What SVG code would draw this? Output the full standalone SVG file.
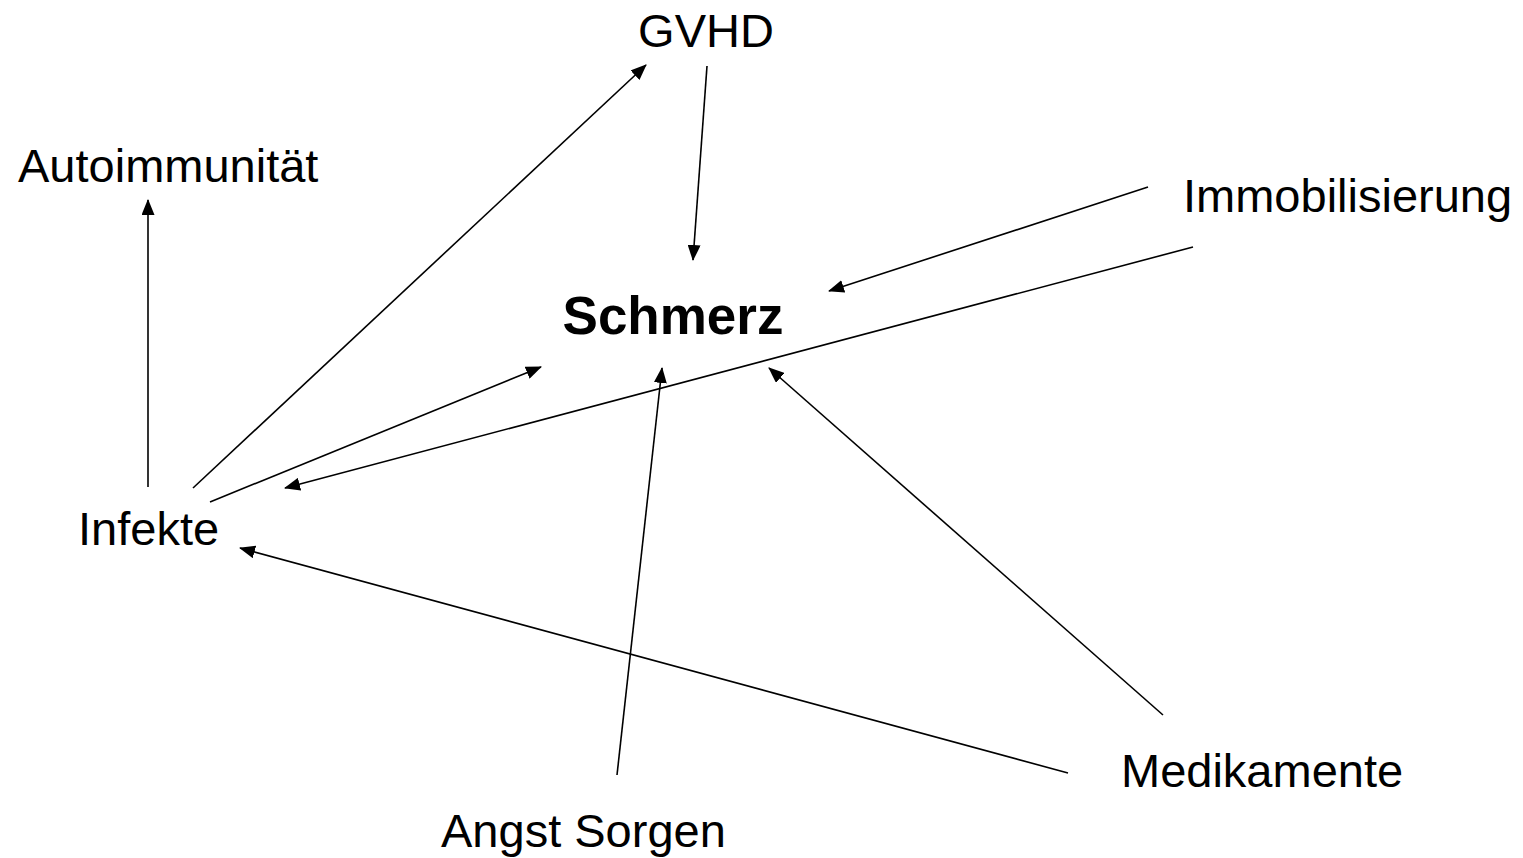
<svg xmlns="http://www.w3.org/2000/svg" width="1523" height="858" viewBox="0 0 1523 858">
<defs>
<style>
.t{font-family:"Liberation Sans",Arial,sans-serif;font-size:47px;fill:#000}
.b{font-weight:bold;font-size:53px}
.c line{stroke:#000;stroke-width:1.6;marker-end:url(#ah)}
</style>
<marker id="ah" viewBox="0 0 16 13" refX="15" refY="6.5" markerWidth="16" markerHeight="13" markerUnits="userSpaceOnUse" orient="auto">
<path d="M0,0 L16,6.5 L0,13 z" fill="#000"/>
</marker>
</defs>
<rect width="1523" height="858" fill="#fff"/>
<g id="connectors" class="c">
<line x1="193" y1="488" x2="646" y2="65"/>
<line x1="707" y1="66" x2="693" y2="260"/>
<line x1="1148" y1="187" x2="829" y2="291"/>
<line x1="1193" y1="247" x2="285" y2="488"/>
<line x1="210" y1="502" x2="541" y2="367"/>
<line x1="617" y1="775" x2="662" y2="368"/>
<line x1="1163" y1="715" x2="769" y2="368"/>
<line x1="1068" y1="773" x2="240" y2="548"/>
<line x1="148" y1="487" x2="148" y2="200"/>
</g>
<g id="gvhd"><text class="t" x="706" y="47" text-anchor="middle">GVHD</text></g>
<g id="autoimmunitaet"><text class="t" x="18" y="182">Autoimmunität</text></g>
<g id="immobilisierung"><text class="t" x="1183" y="212">Immobilisierung</text></g>
<g id="schmerz"><text class="t b" x="673" y="334" text-anchor="middle">Schmerz</text></g>
<g id="infekte"><text class="t" x="78" y="545">Infekte</text></g>
<g id="medikamente"><text class="t" x="1121" y="787">Medikamente</text></g>
<g id="angst"><text class="t" x="441" y="847">Angst Sorgen</text></g>
</svg>
